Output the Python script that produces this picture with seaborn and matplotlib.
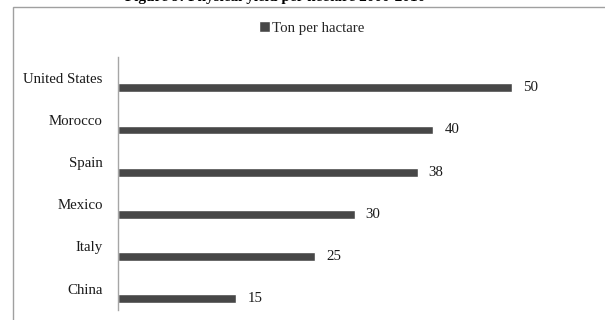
import matplotlib
matplotlib.use("Agg")
import matplotlib.pyplot as plt
import matplotlib.transforms as mtransforms
from matplotlib.patches import Rectangle
import seaborn as sns

# data
countries = ["United States", "Morocco", "Spain", "Mexico", "Italy", "China"]
yields = [50, 40, 38, 30, 25, 15]
series_name = "Ton per hactare"
title = "Figure 9: Physical yield per hectare 2000-2010"

bar_color = "#474747"
fs = 10.7

sns.set_style("white")
plt.rcParams["font.family"] = ["Liberation Serif", "DejaVu Serif"]
plt.rcParams["font.size"] = fs

fig = plt.figure(figsize=(6.05, 3.2), dpi=100)
ax = fig.add_axes([118 / 605, 1 - 310 / 320, 473 / 605, 253 / 320])

# outer chart frame
fig.patches.append(Rectangle((13 / 605, -0.1), 1.0, 1 - 7 / 320 + 0.1,
                             transform=fig.transFigure, fill=False,
                             edgecolor="#a0a0a0", linewidth=1.0, clip_on=False))

sns.barplot(x=yields, y=countries, orient="h", color=bar_color,
            width=0.21, saturation=1, ax=ax, label=series_name)

for c in ax.containers:
    ax.bar_label(c, padding=8, fontsize=fs, color="#1a1a1a")

ax.set_xlim(0, 60)
ax.set_ylim(5.27, -0.73)
ax.set_xlabel("")
ax.set_ylabel("")
ax.set_xticks([])
sns.despine(ax=ax, top=True, right=True, bottom=True, left=False)
ax.spines["left"].set_color("#a6a6a6")
ax.spines["left"].set_linewidth(1.0)

ax.tick_params(axis="y", length=0, pad=11, labelsize=fs, labelcolor="#1a1a1a")
shift = mtransforms.ScaledTranslation(0, 0.1, fig.dpi_scale_trans)
for lbl in ax.get_yticklabels():
    lbl.set_transform(lbl.get_transform() + shift)

leg = ax.legend(loc="center", bbox_to_anchor=(312 / 605, 1 - 28 / 320),
                bbox_transform=fig.transFigure, frameon=False,
                handlelength=0.7, handleheight=0.7, handletextpad=0.2,
                fontsize=fs)

fig.text(275 / 605, 1.0 + 2 / 320, title, ha="center", va="center",
         fontsize=11, fontweight="bold", color="#000000")

fig.savefig("out.png", dpi=100)
